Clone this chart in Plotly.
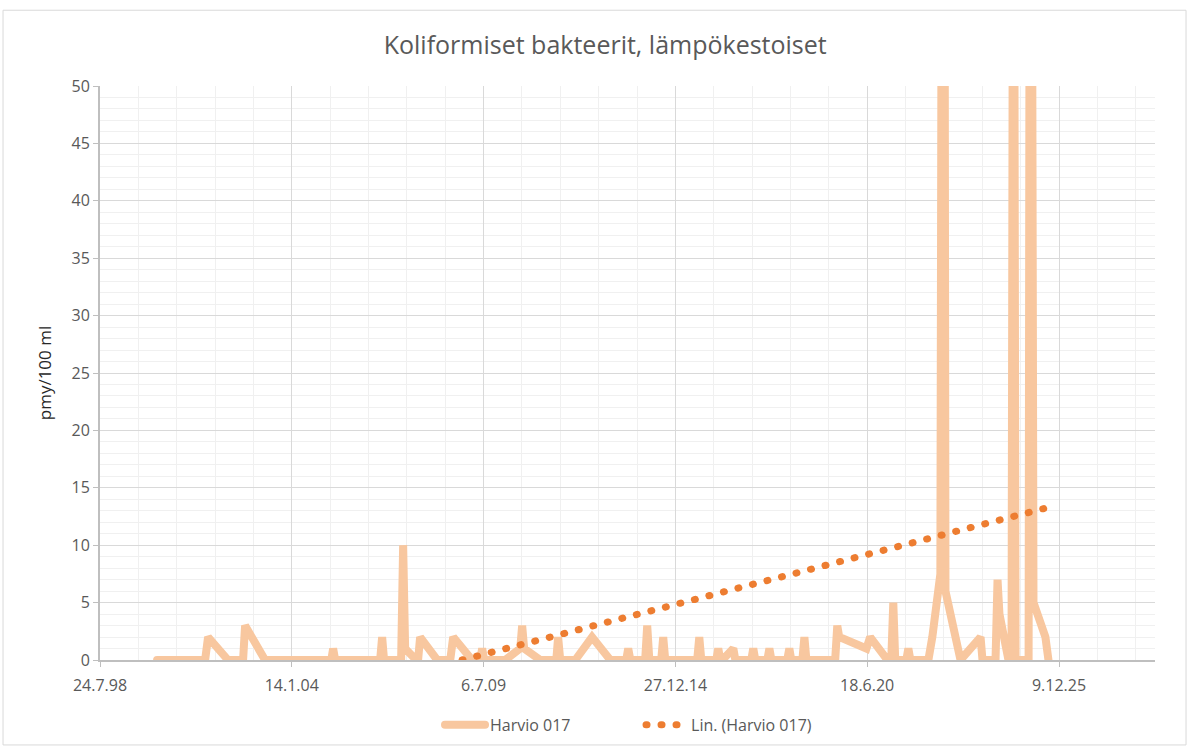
import plotly.graph_objects as go

# Sample series "Harvio 017" (pmy/100 ml)
sample_dates = [
    "2000-03-10", "2001-07-24", "2001-08-24", "2002-03-20", "2002-08-24", "2002-09-14", "2003-04-10",
    "2005-03-01", "2005-03-20", "2005-04-10",
    "2006-07-23", "2006-08-13", "2006-09-02",
    "2007-02-27", "2007-03-20", "2007-04-10", "2007-08-03",
    "2007-08-23", "2007-09-13", "2008-03-09",
    "2008-07-23", "2008-08-23", "2009-03-08",
    "2009-05-31", "2009-06-21", "2009-07-12",
    "2010-02-17", "2010-07-23", "2010-08-12", "2010-09-02", "2011-02-17",
    "2011-08-03", "2011-08-22", "2011-09-13",
    "2012-02-17", "2012-08-10", "2013-02-16",
    "2013-08-01", "2013-08-22", "2013-09-13",
    "2014-02-15", "2014-03-08", "2014-03-30",
    "2014-08-01", "2014-08-22", "2014-09-12",
    "2015-08-11", "2015-09-02", "2015-09-23",
    "2016-02-26", "2016-03-18", "2016-04-08",
    "2016-04-30", "2016-08-22", "2016-09-12",
    "2017-02-25", "2017-03-18", "2017-04-08",
    "2017-08-12", "2017-09-02", "2017-09-23",
    "2018-03-07", "2018-03-29", "2018-04-18",
    "2018-08-12", "2018-09-02", "2018-09-23",
    "2019-07-20", "2019-08-11", "2019-08-31",
    "2020-06-10", "2020-07-19", "2021-01-15",
    "2021-02-24", "2021-03-17", "2021-04-06",
    "2021-07-31", "2021-08-21", "2021-09-11",
    "2022-03-18", "2022-04-28", "2022-07-21", "2022-08-22", "2022-09-12", "2023-02-16",
    "2023-09-13", "2023-10-03",
    "2024-02-16", "2024-03-08", "2024-03-28", "2024-06-30", "2024-08-01", "2024-08-22", "2024-09-12",
    "2025-01-26", "2025-02-15", "2025-03-18", "2025-07-20", "2025-08-21",
]
sample_values = [
    0, 0, 2, 0, 0, 3, 0,
    0, 1, 0,
    0, 2, 0,
    0, 10, 1, 0,
    0, 2, 0,
    0, 2, 0,
    0, 1, 0,
    0, 1, 3, 1, 0,
    0, 2, 0,
    0, 2, 0,
    0, 1, 0,
    0, 3, 0,
    0, 2, 0,
    0, 2, 0,
    0, 1, 0,
    0, 1, 0,
    0, 1, 0,
    0, 1, 0,
    0, 1, 0,
    0, 2, 0,
    0, 3, 2,
    1, 2, 0,
    0, 5, 0,
    0, 1, 0,
    0, 2, 7.5, 140, 6, 0,
    2, 0,
    0, 7, 4, 0, 0, 95, 0,
    0, 120, 5, 2, 0,
]

# Linear trend line, end points (clipped at 0)
trend_dates = ["2008-11-24", "2025-08-21"]
trend_values = [0, 13.3]

# Excel-style date axis: 2000-day major unit, 400-day minor unit
tick_dates = ["1998-07-24", "2004-01-14", "2009-07-06", "2014-12-27", "2020-06-18", "2025-12-09"]
tick_labels = ["24.7.98", "14.1.04", "6.7.09", "27.12.14", "18.6.20", "9.12.25"]

TXT = "#595959"
FONT = "Open Sans"

fig = go.Figure()
fig.add_trace(go.Scatter(
    x=sample_dates,
    y=sample_values,
    name="Harvio 017",
    mode="lines",
    line={"color": "#F8C79F", "width": 8},
))
fig.add_trace(go.Scatter(
    x=trend_dates,
    y=trend_values,
    name="Lin. (Harvio 017)",
    mode="lines",
    line={"color": "#ED7D31", "width": 7, "dash": "1px,14px"},
))

fig.update_layout(
    width=1189,
    height=749,
    title={
        "text": "Koliformiset bakteerit, lämpökestoiset",
        "x": 0.509, "xanchor": "center",
        "y": 0.94, "yanchor": "middle",
        "font": {"family": FONT, "size": 25, "color": TXT},
    },
    font={"family": FONT, "size": 16, "color": TXT},
    xaxis={
        "type": "date",
        "range": ["1998-07-24", "2028-09-05"],
        "tickmode": "array",
        "tickvals": tick_dates,
        "ticktext": tick_labels,
        "showgrid": True,
        "gridcolor": "#D9D9D9",
        "gridwidth": 1,
        "showline": True,
        "linecolor": "#BFBFBF",
        "linewidth": 2,
        "ticks": "outside",
        "ticklen": 5,
        "tickcolor": "#BFBFBF",
        "ticklabelstandoff": 5,
        "tickfont": {"size": 16, "color": TXT},
        "minor": {
            "tickmode": "linear",
            "tick0": "1998-07-24",
            "dtick": 400 * 86400000,
            "showgrid": True,
            "gridcolor": "#F0F0F0",
            "gridwidth": 1,
        },
        "zeroline": False,
    },
    yaxis={
        "title": {"text": "pmy/100 ml", "font": {"size": 17, "color": "#262626"}, "standoff": 16},
        "range": [0, 50],
        "tickmode": "linear",
        "tick0": 0,
        "dtick": 5,
        "showgrid": True,
        "gridcolor": "#D9D9D9",
        "gridwidth": 1,
        "showline": True,
        "linecolor": "#BFBFBF",
        "linewidth": 2,
        "ticks": "outside",
        "ticklen": 5,
        "tickcolor": "#BFBFBF",
        "tickfont": {"size": 16, "color": TXT},
        "minor": {
            "tickmode": "linear",
            "tick0": 0,
            "dtick": 1,
            "showgrid": True,
            "gridcolor": "#F0F0F0",
            "gridwidth": 1,
        },
        "zeroline": False,
    },
    legend={
        "orientation": "h",
        "x": 0.3223, "xanchor": "left",
        "y": -0.113, "yanchor": "middle",
        "font": {"size": 16, "color": TXT},
        "itemwidth": 40,
        "entrywidth": 146,
    },
    margin={"l": 100, "r": 34, "t": 86, "b": 89, "autoexpand": False},
    plot_bgcolor="white",
    paper_bgcolor="white",
    showlegend=True,
    shapes=[{
        "type": "rect",
        "xref": "paper", "yref": "paper",
        "x0": -0.0919, "x1": 1.0294,
        "y0": -0.148, "y1": 1.132,
        "line": {"color": "#D9D9D9", "width": 1},
        "fillcolor": "rgba(0,0,0,0)",
        "layer": "below",
    }],
)

# page tweaks: no body margin, round dots for the dotted trend line
post = """
document.body.style.margin = '0px';
var gd = document.getElementsByClassName('plotly-graph-div')[0];
function roundDots() {
    var paths = gd.querySelectorAll('.scatterlayer .trace path.js-line, .legend .legendlines path');
    paths.forEach(function (p) { p.style.strokeLinecap = 'round'; });
}
roundDots();
gd.on('plotly_afterplot', roundDots);
"""
fig.write_html("out.html", post_script=post, config={"displayModeBar": False})
